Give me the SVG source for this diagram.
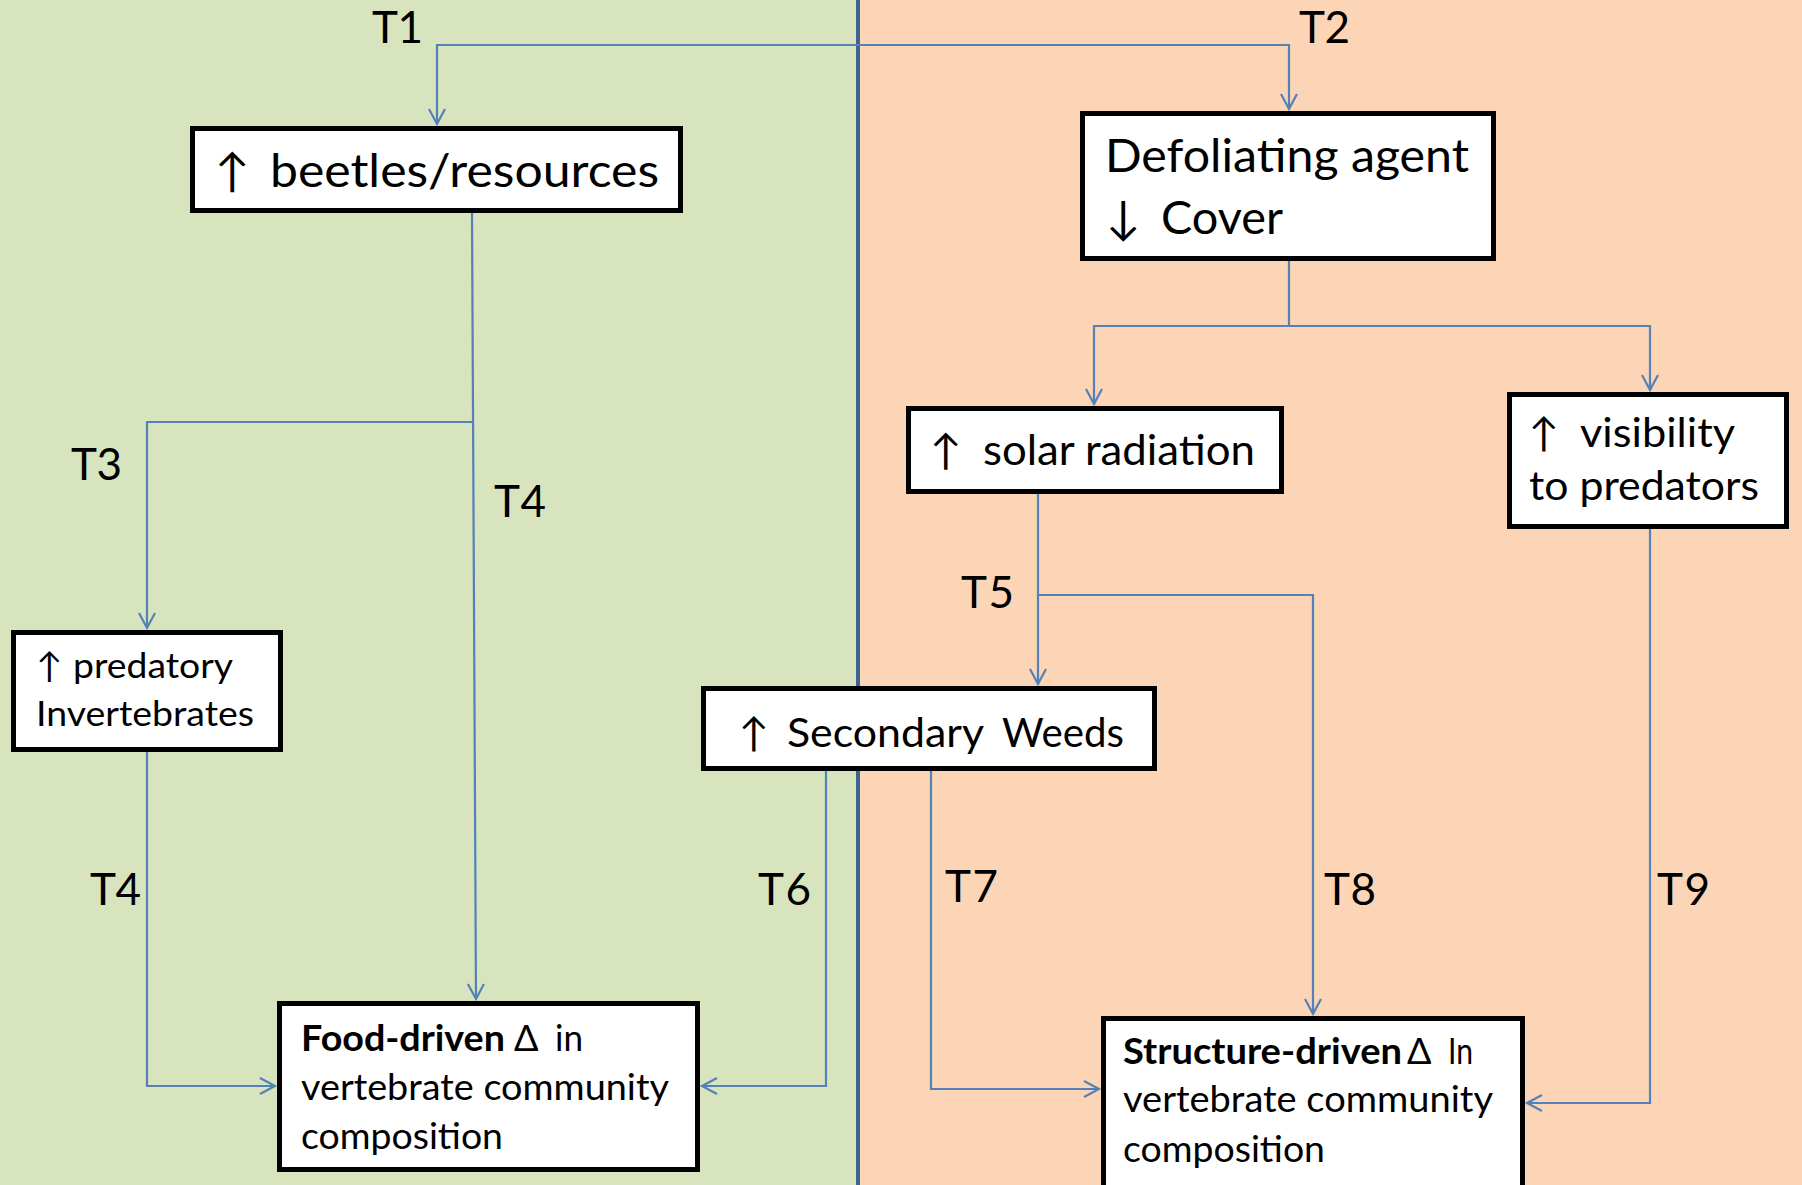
<svg xmlns="http://www.w3.org/2000/svg" width="1802" height="1185" viewBox="0 0 1802 1185">
<style>
.box{fill:#ffffff;stroke:#000000;stroke-width:5}
.t{font-family:Lato,"Liberation Sans","DejaVu Sans",sans-serif;fill:#000000;white-space:pre}
.lbl{font-family:Lato,"Liberation Sans","DejaVu Sans",sans-serif;fill:#000000;font-size:44px}
.c{fill:none;stroke:#5580b8;stroke-width:2.2;marker-end:url(#arr)}
</style>
<defs>
<marker id="arr" markerUnits="userSpaceOnUse" markerWidth="20" markerHeight="20" refX="16" refY="9" orient="auto" viewBox="0 0 20 18">
<path d="M1,1 L16,9 L1,17" fill="none" stroke="#5580b8" stroke-width="2.2"/>
</marker>
</defs>
<g id="background">
<rect x="0" y="0" width="858" height="1185" fill="#d7e4bd"/>
<rect x="858" y="0" width="944" height="1185" fill="#fbd5b5"/>
<line x1="858" y1="0" x2="858" y2="1185" stroke="#3f6390" stroke-width="4"/>
</g>
<g id="connectors">
<path class="c" d="M858,45 H437 V124"/>
<path class="c" d="M858,45 H1289 V109"/>
<path class="c" d="M1289,261 V326 H1094 V404"/>
<path class="c" d="M1289,326 H1650 V390"/>
<path class="c" d="M472,213 L476,999"/>
<path class="c" d="M472,422 H147 V628"/>
<path class="c" d="M147,752 V1086 H275"/>
<path class="c" d="M1038,494 V684"/>
<path class="c" d="M1038,595 H1313 V1014"/>
<path class="c" d="M826,771 V1086 H702"/>
<path class="c" d="M931,771 V1089 H1099"/>
<path class="c" d="M1650,529 V1103 H1527"/>
</g>
<g id="labels">
<text class="lbl" x="372" y="43" textLength="51">T1</text>
<text class="lbl" x="1299" y="43" textLength="51">T2</text>
<text class="lbl" x="71" y="480" textLength="51">T3</text>
<text class="lbl" x="494" y="517" textLength="52">T4</text>
<text class="lbl" x="90" y="905" textLength="51">T4</text>
<text class="lbl" x="961" y="608" textLength="53">T5</text>
<text class="lbl" x="758" y="905" textLength="53">T6</text>
<text class="lbl" x="945" y="902" textLength="53">T7</text>
<text class="lbl" x="1324" y="905" textLength="52">T8</text>
<text class="lbl" x="1657" y="905" textLength="53">T9</text>
</g>
<g id="node-beetles">
<rect class="box" x="192.5" y="128.5" width="488" height="82"/>
<text class="t" x="215" y="187" font-size="46">↑</text>
<text class="t" x="270" y="187" font-size="46" textLength="389" lengthAdjust="spacingAndGlyphs">beetles/resources</text>
</g>
<g id="node-defoliating">
<rect class="box" x="1082.5" y="113.5" width="411" height="145"/>
<text class="t" x="1105" y="172" font-size="46" textLength="364" lengthAdjust="spacingAndGlyphs">Defoliating agent</text>
<text class="t" x="1106" y="234" font-size="46">↓</text>
<text class="t" x="1161" y="234" font-size="46" textLength="122" lengthAdjust="spacingAndGlyphs">Cover</text>
</g>
<g id="node-solar">
<rect class="box" x="908.5" y="408.5" width="373" height="83"/>
<text class="t" x="930" y="465" font-size="42">↑</text>
<text class="t" x="983" y="465" font-size="42" textLength="272" lengthAdjust="spacingAndGlyphs">solar radiation</text>
</g>
<g id="node-visibility">
<rect class="box" x="1509.5" y="394.5" width="277" height="132"/>
<text class="t" x="1529" y="447" font-size="40">↑</text>
<text class="t" x="1580" y="447" font-size="40" textLength="155" lengthAdjust="spacingAndGlyphs">visibility</text>
<text class="t" x="1529" y="500" font-size="40" textLength="230" lengthAdjust="spacingAndGlyphs">to predators</text>
</g>
<g id="node-predatory">
<rect class="box" x="13.5" y="632.5" width="267" height="117"/>
<text class="t" x="36" y="678" font-size="35">↑</text>
<text class="t" x="73" y="678" font-size="35" textLength="160" lengthAdjust="spacingAndGlyphs">predatory</text>
<text class="t" x="36" y="726" font-size="35" textLength="218" lengthAdjust="spacingAndGlyphs">Invertebrates</text>
</g>
<g id="node-weeds">
<rect class="box" x="703.5" y="688.5" width="451" height="80"/>
<text class="t" x="739" y="747" font-size="40">↑</text>
<text class="t" x="787" y="747" font-size="40" textLength="197" lengthAdjust="spacingAndGlyphs">Secondary</text>
<text class="t" x="1002" y="747" font-size="40" textLength="122" lengthAdjust="spacingAndGlyphs">Weeds</text>
</g>
<g id="node-food">
<rect class="box" x="279.5" y="1003.5" width="418" height="166"/>
<text class="t" x="301" y="1051" font-size="36" font-weight="bold" textLength="204" lengthAdjust="spacingAndGlyphs">Food-driven</text>
<text class="t" x="514" y="1051" font-size="36">Δ</text>
<text class="t" x="555" y="1051" font-size="36" textLength="28" lengthAdjust="spacingAndGlyphs">in</text>
<text class="t" x="301" y="1100" font-size="36" textLength="368" lengthAdjust="spacingAndGlyphs">vertebrate community</text>
<text class="t" x="301" y="1149" font-size="36" textLength="202" lengthAdjust="spacingAndGlyphs">composition</text>
</g>
<g id="node-structure">
<rect class="box" x="1103.5" y="1018.5" width="419" height="200"/>
<text class="t" x="1123" y="1064" font-size="36" font-weight="bold" textLength="279" lengthAdjust="spacingAndGlyphs">Structure-driven</text>
<text class="t" x="1407" y="1064" font-size="36">Δ</text>
<text class="t" x="1448" y="1064" font-size="36" textLength="25" lengthAdjust="spacingAndGlyphs">In</text>
<text class="t" x="1123" y="1112" font-size="36" textLength="370" lengthAdjust="spacingAndGlyphs">vertebrate community</text>
<text class="t" x="1123" y="1162" font-size="36" textLength="202" lengthAdjust="spacingAndGlyphs">composition</text>
</g>
</svg>
